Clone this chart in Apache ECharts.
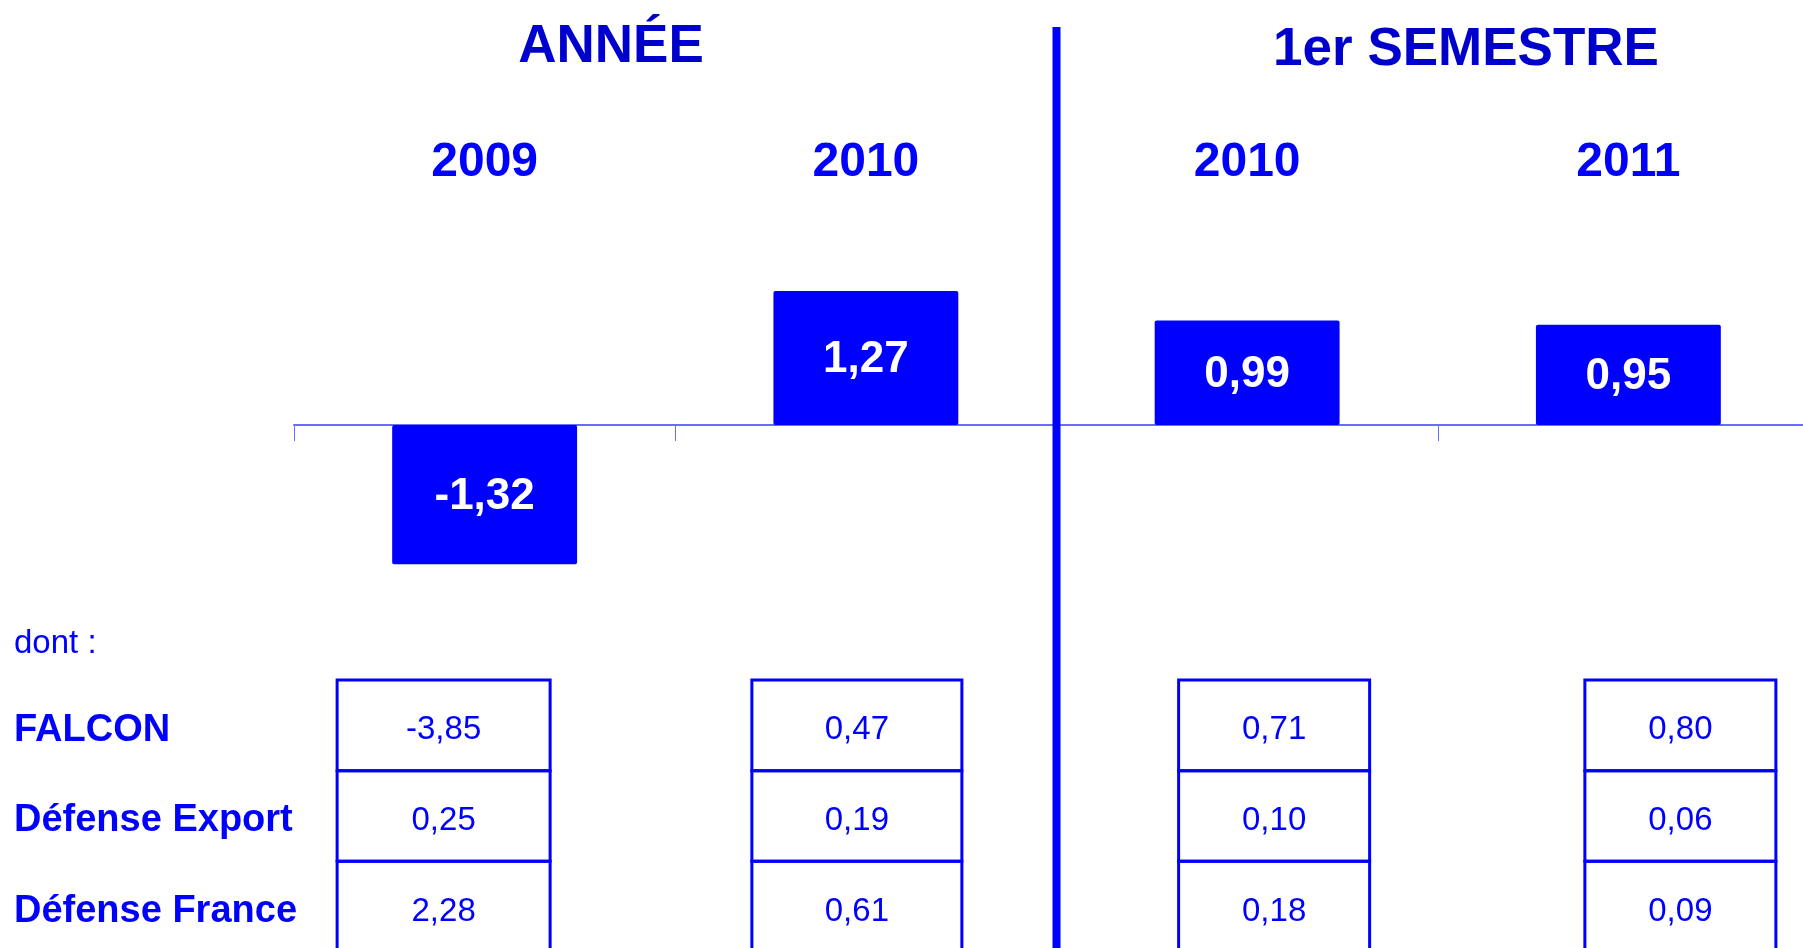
<!DOCTYPE html>
<html>
<head>
<meta charset="utf-8">
<script src="https://cdn.jsdelivr.net/npm/echarts@6/dist/echarts.min.js"></script>
<style>
  html, body { margin: 0; padding: 0; background: #ffffff; overflow: hidden; width: 1803px; height: 948px; }
  #chart { width: 1830px; height: 960px; }
</style>
</head>
<body>
<div id="chart"></div>
<script>
// ---- data ----
const periods = ['2009', '2010', '2010', '2011'];
const groupTitles = ['ANNÉE', '1er SEMESTRE'];
const totals = [-1.32, 1.27, 0.99, 0.95];
const rowNames = ['FALCON', 'Défense Export', 'Défense France'];
const falcon = [-3.85, 0.47, 0.71, 0.80];
const defenseExport = [0.25, 0.19, 0.10, 0.06];
const defenseFrance = [2.28, 0.61, 0.18, 0.09];
const subLabel = 'dont :';

// ---- styling / layout ----
const FONT = "'Liberation Sans', Arial, sans-serif";
const BLUE = '#0000ff';
const DARK = '#0000cc';
const AXIS = '#6b6bff';
const tableColLayout = [
  { dx: -41, w: 213 },
  { dx: -9, w: 210 },
  { dx: 27, w: 191 },
  { dx: 52, w: 191 }
];

const fmt = v => v.toFixed(2).replace('.', ',');

const tableRows = [falcon, defenseExport, defenseFrance];
const tableData = [];
tableRows.forEach((row, r) => row.forEach((v, c) => tableData.push([c, r, v])));

const chart = echarts.init(document.getElementById('chart'), null, { renderer: 'canvas' });

const option = {
  animation: false,
  backgroundColor: '#ffffff',
  title: [
    { text: groupTitles[0], left: 611, top: 21, textAlign: 'center', padding: 0,
      textStyle: { fontFamily: FONT, fontSize: 53, fontWeight: 'bold', color: DARK } },
    { text: groupTitles[1], left: 1466, top: 24, textAlign: 'center', padding: 0,
      textStyle: { fontFamily: FONT, fontSize: 53, fontWeight: 'bold', color: DARK } },
    { text: subLabel, left: 14, top: 627, padding: 0,
      textStyle: { fontFamily: FONT, fontSize: 33, fontWeight: 'normal', color: BLUE } }
  ],
  grid: [
    { left: 294, top: 214, width: 1525, height: 422, containLabel: false },
    { left: 294, top: 680, width: 1525, height: 272, containLabel: false }
  ],
  xAxis: [
    { type: 'category', gridIndex: 0, position: 'bottom', data: periods,
      axisLine: { show: true, onZero: true, lineStyle: { color: AXIS, width: 2 } },
      axisTick: { show: true, length: 16, lineStyle: { color: AXIS, width: 1 } },
      axisLabel: { show: false }, splitLine: { show: false } },
    { type: 'category', gridIndex: 0, position: 'top', data: periods,
      axisLine: { show: false, onZero: false }, axisTick: { show: false },
      axisLabel: { show: true, margin: 51, verticalAlign: 'middle', interval: 0,
        fontFamily: FONT, fontSize: 48, fontWeight: 'bold', color: BLUE },
      splitLine: { show: false } },
    { type: 'category', gridIndex: 1, data: periods, show: false }
  ],
  yAxis: [
    { type: 'value', gridIndex: 0, min: -2, max: 2, show: false },
    { type: 'category', gridIndex: 1, data: rowNames, inverse: true,
      axisLine: { show: false }, axisTick: { show: false }, splitLine: { show: false },
      axisLabel: { show: true, align: 'left', margin: 280, interval: 0,
        formatter: v => '{r|' + v + '}',
        rich: { r: { padding: [10, 0, 0, 0], fontFamily: FONT, fontSize: 38, fontWeight: 'bold', color: BLUE } },
        fontFamily: FONT, fontSize: 38, fontWeight: 'bold', color: BLUE } }
  ],
  series: [
    { type: 'bar', xAxisIndex: 0, yAxisIndex: 0, data: totals, barWidth: '48.5%',
      itemStyle: { color: BLUE, borderRadius: 2 },
      label: { show: true, position: 'inside', offset: [0, 2], formatter: p => fmt(p.value),
        fontFamily: FONT, fontSize: 44, fontWeight: 'bold', color: '#ffffff' } },
    { type: 'custom', xAxisIndex: 2, yAxisIndex: 1, data: tableData,
      encode: { x: 0, y: 1 },
      renderItem: function (params, api) {
        const c = api.value(0), r = api.value(1), v = api.value(2);
        const center = api.coord([c, r]);
        const h = api.size([0, 1])[1];
        const lay = tableColLayout[c];
        const cx = center[0] + lay.dx;
        return {
          type: 'group',
          children: [
            { type: 'rect',
              shape: { x: cx - lay.w / 2, y: center[1] - h / 2, width: lay.w, height: h },
              style: { fill: 'none', stroke: BLUE, lineWidth: 3 } },
            { type: 'text',
              style: { x: cx, y: center[1] + 5, text: fmt(v), textAlign: 'center', textVerticalAlign: 'middle',
                font: 'normal 33px ' + FONT, fill: BLUE } }
          ]
        };
      } }
  ]
};

chart.setOption(option);

// divider between the yearly and half-year groups, placed at the category boundary
const p1 = chart.convertToPixel({ xAxisIndex: 0 }, 1);
const p2 = chart.convertToPixel({ xAxisIndex: 0 }, 2);
const divX = (p1 + p2) / 2;
chart.setOption({
  graphic: [
    { type: 'rect', z: 100,
      shape: { x: divX - 4, y: 27, width: 8, height: 960 - 27 },
      style: { fill: BLUE } }
  ]
});
</script>
</body>
</html>
